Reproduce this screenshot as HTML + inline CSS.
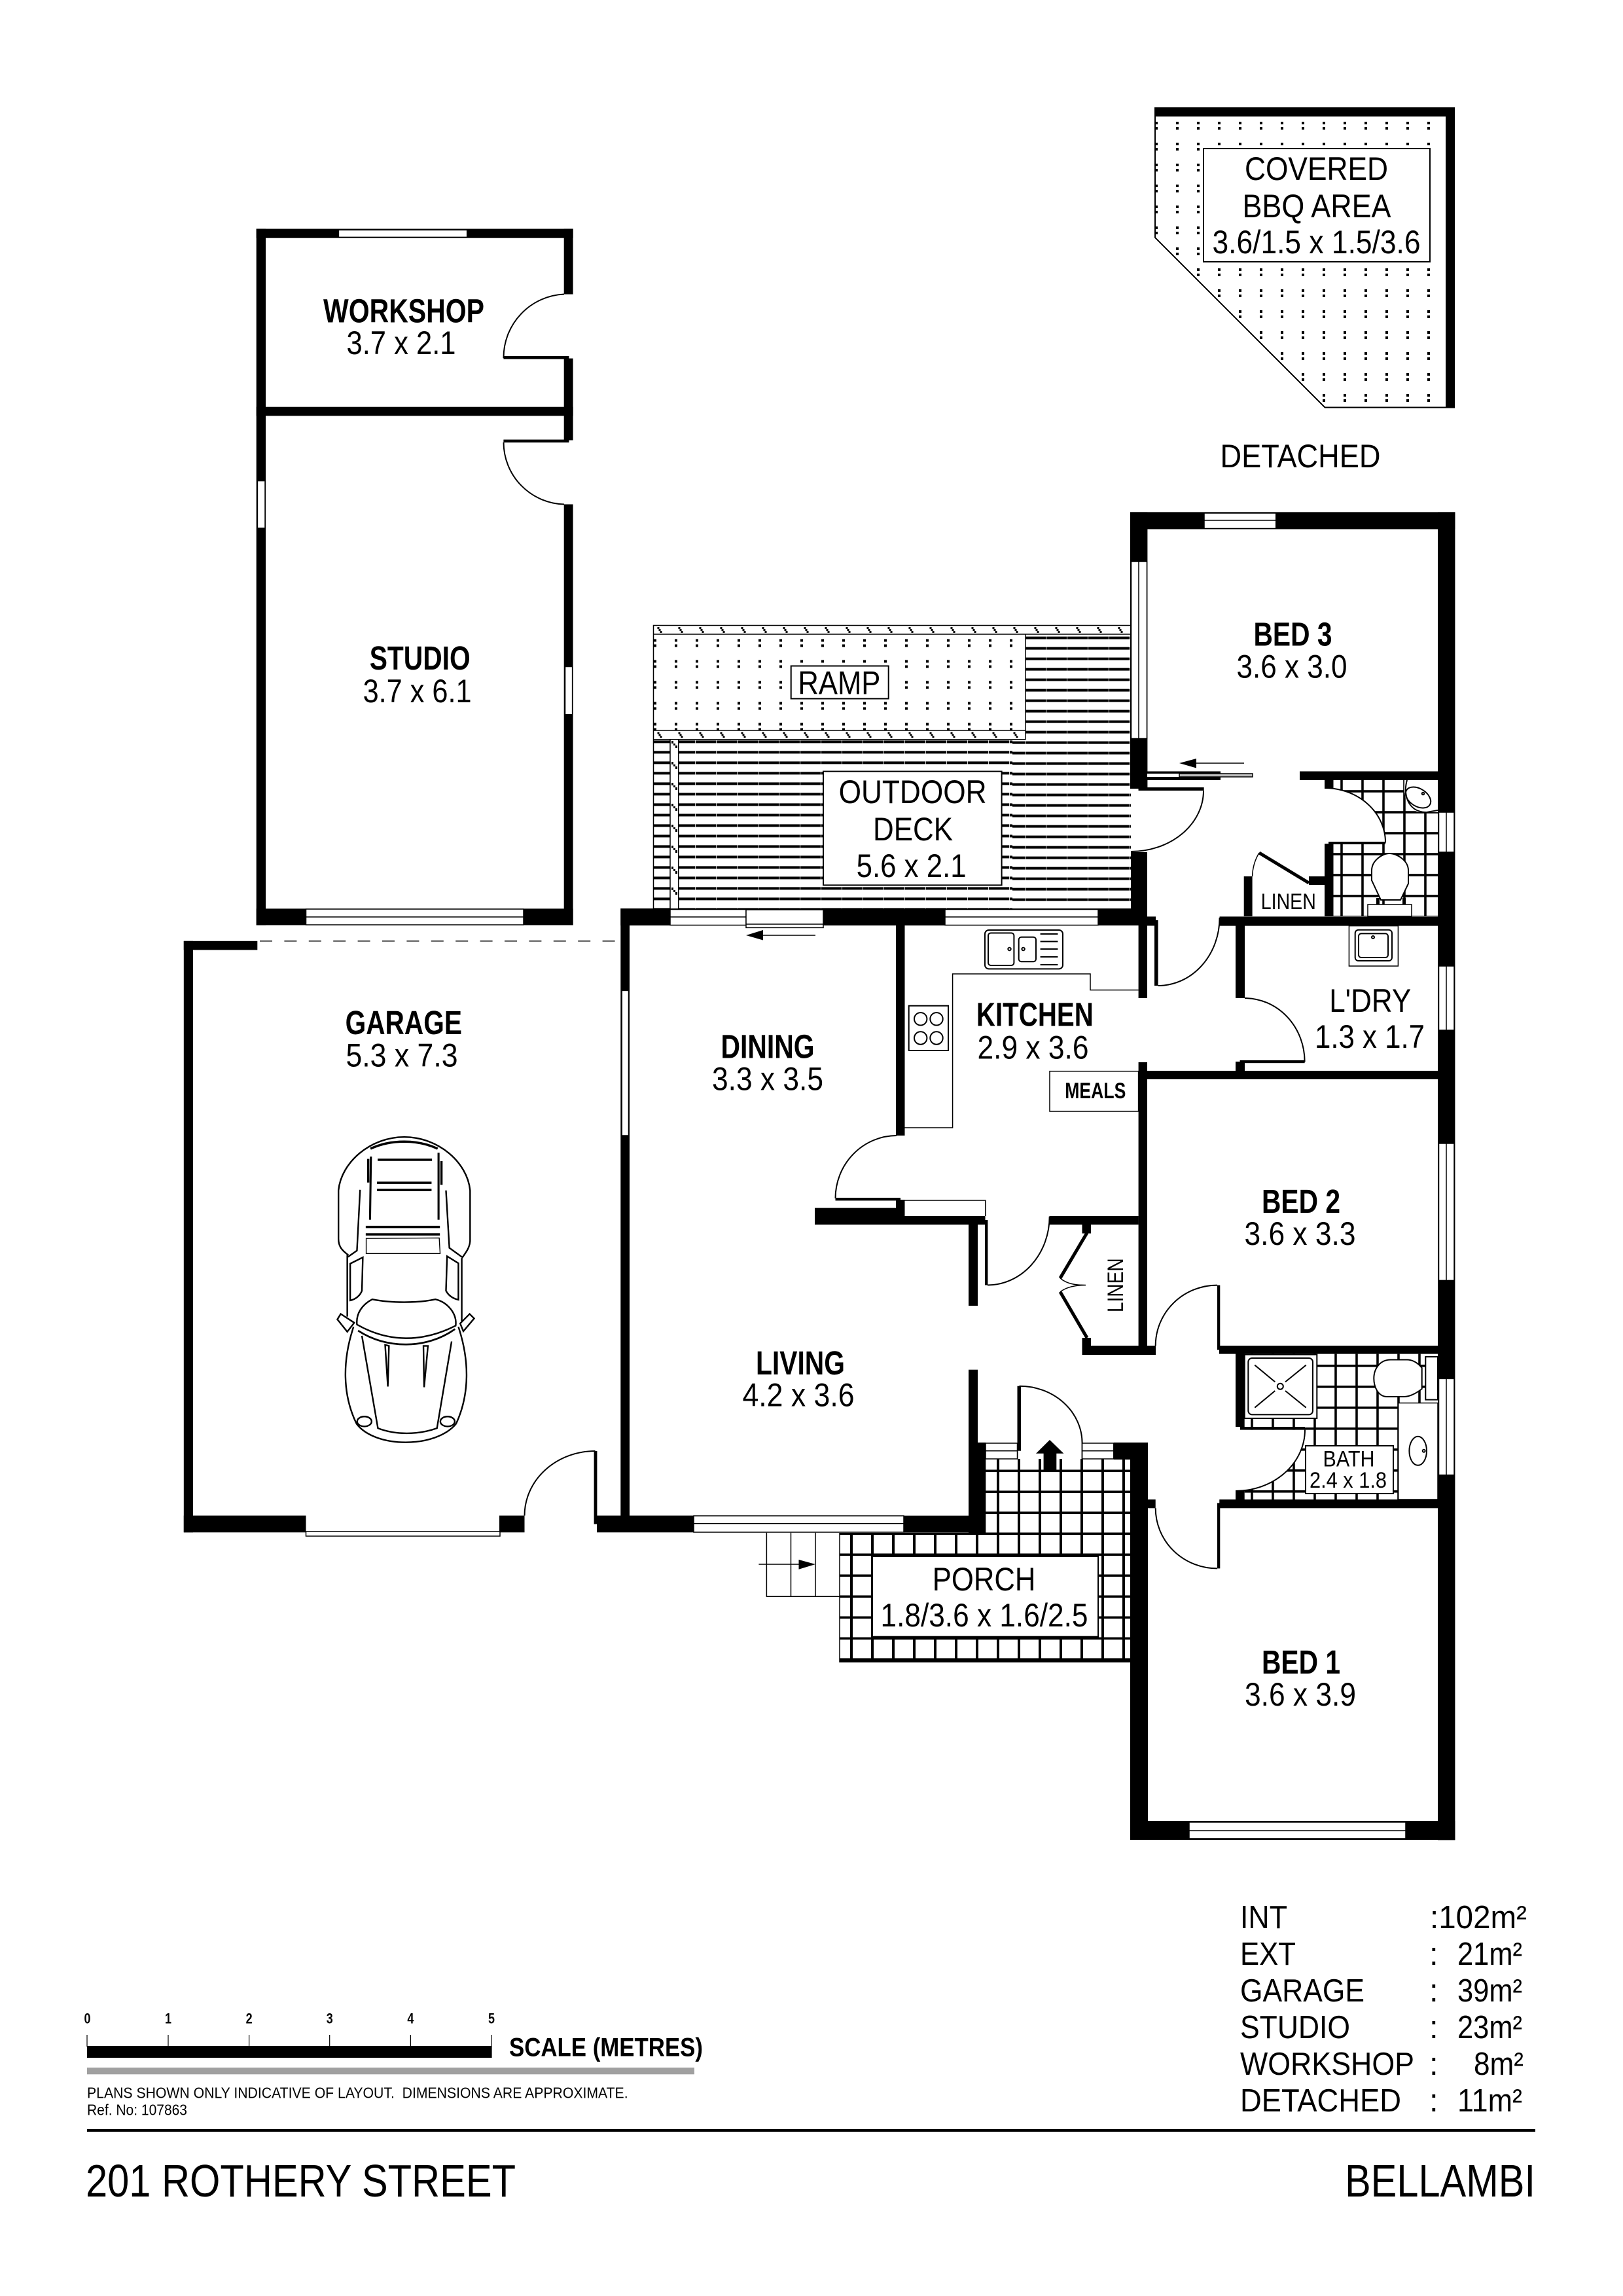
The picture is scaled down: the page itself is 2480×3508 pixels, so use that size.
<!DOCTYPE html>
<html><head><meta charset="utf-8"><title>201 Rothery Street floor plan</title>
<style>
html,body{margin:0;padding:0;background:#fff}
svg{display:block}
text{font-family:"Liberation Sans",Arial,sans-serif;fill:#000}
.r{font-size:50px;text-anchor:middle}
.b{font-size:51px;font-weight:bold;text-anchor:middle}
.l{font-size:49px}
.wn{fill:#fff;stroke:#000;stroke-width:1.5}
.ln{stroke:#000;stroke-width:1.5;fill:none}
.arc{stroke:#000;stroke-width:2;fill:#fff}
.fx{fill:#fff;stroke:#000;stroke-width:2}
.no{fill:none;stroke:#000;stroke-width:2}
.box{fill:#fff;stroke:#000;stroke-width:2}
</style></head><body>
<svg xmlns="http://www.w3.org/2000/svg" width="2480" height="3508" viewBox="0 0 2480 3508">
<defs>
<pattern id="d1" patternUnits="userSpaceOnUse" x="1765" y="186" width="32" height="32"><rect width="4" height="4"/><rect y="8" width="4" height="4"/></pattern>
<pattern id="d2" patternUnits="userSpaceOnUse" x="999" y="976.5" width="32" height="32"><rect width="4" height="4"/><rect y="8" width="4" height="4"/></pattern>
<pattern id="pa" patternUnits="userSpaceOnUse" x="1567" y="972.6" width="32" height="16"><rect width="31.2" height="4"/></pattern>
<pattern id="pb" patternUnits="userSpaceOnUse" x="999" y="1131.4" width="32" height="16"><rect width="31.2" height="4"/></pattern>
<pattern id="t1" patternUnits="userSpaceOnUse" x="998.5" y="956" width="32" height="13"><rect x="6" y="2" width="3" height="3"/><rect x="8" y="5" width="3" height="3"/><rect x="10" y="8" width="3" height="3"/></pattern>
<pattern id="t2" patternUnits="userSpaceOnUse" x="998.5" y="1116.5" width="32" height="13"><rect x="6" y="2" width="3" height="3"/><rect x="8" y="5" width="3" height="3"/><rect x="10" y="8" width="3" height="3"/></pattern>
<pattern id="t3" patternUnits="userSpaceOnUse" x="1024" y="1130" width="13" height="32"><rect x="2" y="2" width="3" height="4"/><rect x="5" y="6" width="3" height="3"/><rect x="8" y="9" width="3" height="4"/></pattern>
<pattern id="tp" patternUnits="userSpaceOnUse" x="1299" y="2341.5" width="32" height="32"><rect width="4" height="32"/><rect width="32" height="3.6"/></pattern>
<pattern id="te" patternUnits="userSpaceOnUse" x="2048.2" y="1207.2" width="32" height="32"><rect width="3.6" height="32"/><rect width="32" height="3.6"/></pattern>
<pattern id="tb" patternUnits="userSpaceOnUse" x="1911.2" y="2085" width="32" height="32"><rect width="3.6" height="32"/><rect width="32" height="3.6"/></pattern>
</defs>
<rect width="2480" height="3508" fill="#fff"/>

<!-- BBQ -->
<polygon points="1765,178 2209,178 2209,622.5 2024.5,622.5 1765,363" fill="url(#d1)"/>
<polygon points="1765,165 2222,165 2222,622.5 2024.5,622.5 1765,363" fill="none" stroke="#000" stroke-width="2"/>
<rect x="1764" y="164" width="459" height="14"/>
<rect x="2209" y="164" width="14" height="459"/>
<rect class="box" x="1839" y="227" width="346" height="173"/>
<text class="r" x="2011.5" y="275" textLength="219" lengthAdjust="spacingAndGlyphs">COVERED</text>
<text class="r" x="2012" y="332" textLength="227" lengthAdjust="spacingAndGlyphs">BBQ AREA</text>
<text class="r" x="2011.5" y="387" textLength="318" lengthAdjust="spacingAndGlyphs">3.6/1.5 x 1.5/3.6</text>
<text class="r" x="1987" y="714" textLength="245" lengthAdjust="spacingAndGlyphs">DETACHED</text>

<!-- Deck and ramp -->
<rect x="1567" y="969" width="161" height="162" fill="url(#pa)"/>
<rect x="1547" y="1130" width="181" height="258" fill="url(#pa)"/>
<rect x="999" y="1130" width="548" height="258" fill="url(#pb)"/>
<rect x="999" y="969" width="568" height="147" fill="url(#d2)"/>
<rect x="999" y="956" width="729" height="13" fill="url(#t1)"/>
<rect x="999" y="1116.5" width="568" height="13" fill="url(#t2)"/>
<rect x="1024" y="1130" width="12.7" height="258" fill="#fff"/>
<rect x="1024" y="1130" width="12.7" height="258" fill="url(#t3)"/>
<g class="ln" stroke="#000" stroke-width="2" fill="none">
<path d="M998.5 1388V955.5H1728M998.5 969H1728M998.5 1116H1567M998.5 1129.8H1567V969M1024 1130V1388M1036.7 1130V1388"/>
</g>
<rect class="box" x="1208.7" y="1017.5" width="149" height="50"/>
<text class="r" x="1282.4" y="1060.7" textLength="126" lengthAdjust="spacingAndGlyphs">RAMP</text>
<rect class="box" x="1258" y="1178.6" width="272.6" height="173.8"/>
<text class="r" x="1394.6" y="1227.2" textLength="226" lengthAdjust="spacingAndGlyphs">OUTDOOR</text>
<text class="r" x="1395" y="1283.8" textLength="122" lengthAdjust="spacingAndGlyphs">DECK</text>
<text class="r" x="1392.6" y="1340" textLength="168" lengthAdjust="spacingAndGlyphs">5.6 x 2.1</text>

<!-- Tile areas -->
<rect x="1506" y="2229" width="221" height="114" fill="url(#tp)"/>
<rect x="1283" y="2342" width="444" height="198" fill="url(#tp)"/>
<rect x="1283" y="2536" width="444" height="4"/>
<path class="ln" d="M1283 2342V2540"/>
<rect x="2037.5" y="1192" width="160" height="208" fill="url(#te)"/>
<rect x="1901.7" y="2068.6" width="296" height="222.5" fill="url(#tb)"/>

<!-- Walls: workshop and studio -->
<g fill="#000">
<rect x="391.7" y="349.6" width="484" height="14.1"/>
<rect x="391.7" y="349.6" width="14.3" height="1064"/>
<rect x="861.7" y="349.6" width="13.9" height="100"/>
<rect x="861.7" y="547.6" width="13.9" height="125"/>
<rect x="861.7" y="770.5" width="13.9" height="643"/>
<rect x="391.7" y="621.7" width="484" height="13.7"/>
<rect x="391.7" y="1388.3" width="484" height="25.2"/>
<rect x="769.4" y="544" width="100" height="4.7"/>
<rect x="769.4" y="671.6" width="100" height="4.5"/>
<!-- garage -->
<rect x="280.8" y="1437.8" width="112.5" height="13.6"/>
<rect x="280.8" y="1437.8" width="14.2" height="903.5"/>
<rect x="280.8" y="2315.6" width="186.7" height="25.7"/>
<rect x="763" y="2315.6" width="38.5" height="25.7"/>
<rect x="907.6" y="2217" width="4.8" height="111.7"/>
<rect x="912" y="2315.6" width="148" height="25.7"/>
<!-- house -->
<rect x="948.3" y="1388" width="13.7" height="953"/>
<rect x="948.3" y="1388" width="804.7" height="26"/>
<rect x="1381" y="2315.7" width="125" height="26"/>
<rect x="1480" y="2092.7" width="14" height="112.3"/>
<rect x="1480" y="2204" width="26.3" height="139"/>
<rect x="1369" y="1414" width="13.5" height="321"/>
<rect x="1369" y="1833" width="13.5" height="25"/>
<rect x="1245" y="1845.6" width="137.5" height="25.4"/>
<rect x="1382.5" y="1858" width="123" height="13"/>
<rect x="1480" y="1871" width="14" height="124"/>
<rect x="1505" y="1864" width="4.4" height="99.5"/>
<rect x="1603.7" y="1858" width="136" height="13"/>
<rect x="1276.5" y="1830" width="99.5" height="4.4"/>
<rect x="1739.6" y="1414" width="13.4" height="111"/>
<rect x="1739.6" y="1623" width="13.4" height="446.7"/>
<rect x="1727" y="782.4" width="26.4" height="422.6"/>
<rect x="1728" y="1302" width="25" height="112"/>
<rect x="1727" y="782.4" width="496.4" height="26.1"/>
<rect x="2197" y="782.4" width="26.4" height="2029"/>
<rect x="1753" y="1178.5" width="112" height="13.5"/>
<rect x="1986" y="1178.5" width="211" height="13.5"/>
<rect x="2024" y="1192" width="13.5" height="12"/>
<rect x="1739.6" y="1203" width="100" height="4.8"/>
<rect x="1753" y="1400.4" width="13" height="14"/>
<rect x="1764" y="1406" width="5.6" height="100"/>
<rect x="1863.6" y="1400.4" width="333.4" height="14.2"/>
<rect x="1888" y="1414" width="14" height="111"/>
<rect x="1888" y="1622" width="14" height="14"/>
<rect x="1894.6" y="1620" width="99" height="4.2"/>
<rect x="1739" y="1636" width="458" height="13"/>
<rect x="1863" y="2056" width="334" height="12.6"/>
<rect x="1860" y="1963.6" width="4.3" height="98.9"/>
<rect x="1740" y="2056" width="25.7" height="12.6"/>
<rect x="1888" y="2068" width="13.7" height="112"/>
<rect x="1888" y="2278" width="13.7" height="13"/>
<rect x="1863.3" y="2291" width="333.7" height="13.3"/>
<rect x="1860" y="2296.4" width="4.3" height="100"/>
<rect x="1740" y="2291" width="25.7" height="13.3"/>
<rect x="1701.8" y="2204" width="52.2" height="26"/>
<rect x="1727" y="2230" width="27" height="581"/>
<rect x="1727" y="2782" width="496.4" height="29"/>
<rect x="1653.5" y="1871" width="13.5" height="13.5"/>
<rect x="1653.5" y="2044" width="13.5" height="12"/>
<rect x="1653.5" y="2056" width="112.5" height="14"/>
<rect x="1900.7" y="1339" width="12.9" height="61"/>
<rect x="2000" y="1339" width="24" height="13"/>
</g>

<!-- Doors -->
<path class="no" d="M862 449.5A97 97 0 0 0 769.5 547"/>
<path class="no" d="M769.5 676A95 95 0 0 0 862 770.5"/>
<path class="no" d="M801.5 2315.6A108 98.6 0 0 1 909.5 2217"/>
<path d="M1839 1208A111 93 0 0 1 1728 1301V1208Z" fill="#fff"/>
<path class="no" d="M1839 1208A111 93 0 0 1 1728 1301"/>
<rect x="1739.6" y="1203" width="100" height="4.8"/>
<path d="M2024 1204A93 83 0 0 1 2117 1287.5H2024Z" fill="#fff"/>
<path class="no" d="M2024 1204A93 83 0 0 1 2117 1287.5"/>
<rect x="2024" y="1289" width="13.5" height="111"/>
<rect x="2030" y="1286" width="87" height="4"/>
<path d="M1994 2184.6A106 93.5 0 0 1 1888 2278V2184.6Z" fill="#fff"/>
<path class="no" d="M1994 2184.6A106 93.5 0 0 1 1888 2278"/>
<rect x="1895" y="2180" width="99" height="4.6"/>
<path class="no" d="M1902 1525A92 97 0 0 1 1993.6 1622.4"/>
<path class="no" d="M1765.7 2056A94.3 92.4 0 0 1 1860 1963.6"/>
<path class="no" d="M1765.7 2304.3A94.3 92 0 0 0 1860 2396.4"/>
<path class="no" d="M1769.6 1506A94 104 0 0 0 1863.6 1402"/>
<path class="no" d="M1370 1735A94 96 0 0 0 1276.5 1831"/>
<path class="no" d="M1509 1963.5A95 105 0 0 0 1603.7 1858.6"/>
<path class="no" d="M1557.6 2117.7A96 87.3 0 0 1 1653.6 2205V2229M1554.5 2205V2229"/>
<rect x="1554.5" y="2117.7" width="5.5" height="99"/>

<!-- Windows -->
<rect class="wn" x="517.4" y="351.4" width="196.3" height="11"/>
<rect class="wn" x="393.4" y="734.6" width="11.6" height="72.4"/>
<rect class="wn" x="863.5" y="1018.5" width="11.1" height="73.2"/>
<rect class="wn" x="467.5" y="1389" width="332.5" height="24"/><path class="ln" d="M467.5 1401H800"/>
<rect class="wn" x="467.5" y="2340" width="296.5" height="7"/>
<rect class="wn" x="950.2" y="1513.4" width="10.3" height="221.6"/>
<rect class="wn" x="1024" y="1389.5" width="116" height="24"/><path class="ln" d="M1024 1401H1140"/>
<rect class="wn" x="1140" y="1390" width="118" height="27.4"/><path class="ln" d="M1140 1412H1258"/>
<rect class="wn" x="1444" y="1389.5" width="234" height="24"/><path class="ln" d="M1444 1401H1678"/>
<rect class="wn" x="1060" y="2316" width="321" height="25"/><path class="ln" d="M1060 2327.7H1381"/>
<rect class="wn" x="1506" y="2205" width="48.5" height="24"/><path class="ln" d="M1506 2216.7H1554.5"/>
<rect class="wn" x="1653.6" y="2205" width="48.2" height="24"/><path class="ln" d="M1653.6 2216.7H1701.8"/>
<rect class="wn" x="1840" y="784" width="109.7" height="23.5"/><path class="ln" d="M1840 795H1949.7"/>
<rect class="wn" x="1728.5" y="858" width="24" height="270.5"/><path class="ln" d="M1740 858V1128.5"/>
<rect class="wn" x="2198.5" y="1241" width="23.5" height="61"/><path class="ln" d="M2210 1241V1302"/>
<rect class="wn" x="2198.5" y="1476" width="23.5" height="98"/><path class="ln" d="M2210 1476V1574"/>
<rect class="wn" x="2198.5" y="1747" width="23.5" height="209.4"/><path class="ln" d="M2210 1747V1956.4"/>
<rect class="wn" x="2198.5" y="2106.4" width="23.5" height="147.2"/><path class="ln" d="M2210 2106.4V2253.6"/>
<rect class="wn" x="1817" y="2784" width="331" height="25"/><path class="ln" d="M1817 2797H2148"/>
<rect x="1753" y="1182" width="49" height="5" fill="#fff"/>
<rect x="1802" y="1182" width="112" height="5" fill="#bbb" stroke="#000" stroke-width="1.5"/>
<path d="M397 1437.8H941" stroke="#222" stroke-width="1.6" stroke-dasharray="19 18.4" fill="none"/>

<!-- Arrows -->
<path class="ln" d="M1160 1429H1246"/><polygon points="1140,1429 1166,1421 1166,1436.5"/>
<path class="ln" d="M1820 1166H1901"/><polygon points="1802,1166 1828,1159 1828,1173.5"/>
<path class="ln" d="M1159.4 2390H1225"/><polygon points="1246,2390 1220.5,2383 1220.5,2397.7"/>
<polygon points="1604,2200 1625.4,2220.7 1614.3,2220.7 1614.3,2249 1594.6,2249 1594.6,2220.7 1583,2220.7"/>

<!-- Steps -->
<path class="no" d="M1283 2439.3H1171.4V2341.7M1208.5 2341.7V2439.3M1246 2341.7V2439.3" style="stroke-width:1.5"/>

<!-- Kitchen fixtures -->
<path class="no" d="M1382.5 1723H1455.6V1488H1666V1512.6H1739.6" style="stroke-width:1.5"/>
<rect class="no" x="1505" y="1421" width="119" height="59.4" rx="6"/>
<rect class="no" x="1510" y="1425.5" width="39.4" height="49.5" rx="4"/>
<rect class="no" x="1556.7" y="1431.8" width="26.3" height="37.5" rx="4"/>
<circle class="no" cx="1542.5" cy="1450" r="2.2"/><circle class="no" cx="1563.6" cy="1450" r="2.2"/>
<path class="no" d="M1589.6 1427H1616.4M1589.6 1438.5H1616.4M1589.6 1450H1616.4M1589.6 1462H1616.4M1589.6 1474H1616.4"/>
<rect class="no" x="1388.7" y="1536.7" width="60.3" height="68.3"/>
<circle class="no" cx="1406.7" cy="1556.8" r="9.7"/><circle class="no" cx="1431" cy="1556.8" r="9.7"/>
<circle class="no" cx="1406.7" cy="1586" r="9.7"/><circle class="no" cx="1431" cy="1586" r="9.7"/>
<rect class="no" x="1604" y="1636.7" width="135.6" height="61.3" style="stroke-width:1.5"/>
<path class="no" d="M1382.5 1834H1505.8V1858" style="stroke-width:1.5"/>

<!-- Linen doors -->
<path d="M1661 1883.6L1620 1952.8M1620 1973.8L1661 2044" stroke="#000" stroke-width="5" fill="none"/>
<path class="no" d="M1620 1952.8C1630 1962 1645 1963.5 1659 1963.5C1645 1963.5 1630 1966 1620 1973.8" style="stroke-width:1.5"/>
<path d="M1924 1303L2000 1349" stroke="#000" stroke-width="5" fill="none"/>
<path class="no" d="M1913.6 1339C1914 1325 1918 1313 1924 1303" style="stroke-width:1.5"/>

<!-- Ensuite fixtures -->
<path d="M2146 1192H2197V1241H2172C2156 1241 2146 1225 2146 1205Z" fill="#fff"/>
<path class="no" d="M2150 1192C2144 1212 2150 1241 2180 1241L2197 1238"/>
<ellipse class="no" cx="2167" cy="1218.5" rx="21" ry="13.5" transform="rotate(32 2167 1218.5)"/>
<circle class="no" cx="2174.5" cy="1212.5" r="1.8"/>
<path class="fx" d="M2096 1345V1330C2096 1315 2112 1304 2123 1304C2135 1304 2152 1315 2152 1330V1350L2140 1375H2110Z"/>
<path d="M2103 1372V1382H2108V1372ZM2143 1372V1382H2148V1372Z"/>
<rect class="fx" x="2090" y="1382" width="67" height="18" style="stroke-width:1.5"/>
<rect class="no" x="2061.4" y="1414.6" width="75" height="61.4" style="stroke-width:1.5"/>
<rect class="no" x="2070.7" y="1420.7" width="56.3" height="47.3" rx="5"/>
<rect class="no" x="2076" y="1426.4" width="45" height="36.6" rx="4"/>
<circle class="no" cx="2098" cy="1432" r="2"/>

<!-- Bath fixtures -->
<rect class="fx" x="1901.7" y="2069.6" width="110.6" height="97.4"/>
<rect class="no" x="1907.3" y="2075" width="98.7" height="86.4" rx="6"/>
<circle class="no" cx="1956.3" cy="2118.2" r="4.5"/>
<path class="no" d="M1917.3 2085.7L1948.3 2111.4M1995.7 2085.7L1964 2111.4M1917.3 2150.7L1948.3 2125M1995.7 2150.7L1964 2125"/>
<path class="fx" d="M2172.7 2090V2122C2165 2128 2155 2134 2145 2134H2120C2105 2134 2099.3 2118 2099.3 2106C2099.3 2092 2108 2077.5 2125 2077.5H2150C2160 2077.5 2168 2084 2172.7 2090Z"/>
<rect class="fx" x="2178.3" y="2073" width="18.7" height="65.6"/>
<rect class="fx" x="2136.7" y="2143.6" width="60.3" height="147.4" style="stroke-width:1.5"/>
<ellipse class="no" cx="2166.7" cy="2216.8" rx="13.3" ry="22"/>
<circle class="no" cx="2175.7" cy="2216.8" r="2"/>

<!-- Car -->
<g transform="translate(480 1700) scale(.3444)" fill="none" stroke="#000" stroke-width="7">
<path d="M152 632C125 612 108 595 108 560V345C120 220 250 108 400 108C550 108 680 220 692 345V570C690 600 672 622 658 642L600 600L585 345"/>
<path d="M150 640L190 612L204 342M147 632V905M655 645V925"/>
<path d="M250 160C340 118 460 118 548 160" stroke-width="10"/>
<path d="M248 475L252 195M552 475V178" stroke-width="9"/>
<path d="M240 205V310M565 215V320" stroke-width="10"/>
<path d="M282 209H523M279 311H521M279 343H521M229 507H558M229 540H558" stroke-width="10"/>
<path d="M231 558L555 556L559 625H231Z" stroke-width="4"/>
<path d="M160 670L216 642L212 790C205 810 185 828 160 833Z"/>
<path d="M590 637L640 668V830C615 825 595 810 585 790Z"/>
<path d="M190 940C185 890 215 850 258 828C340 845 460 845 538 828C590 840 635 890 628 945C480 1020 330 1020 190 940Z"/>
<path d="M195 967C320 1050 500 1050 625 960" stroke-width="8"/>
<path d="M175 950C125 1100 125 1250 188 1380M640 950C690 1100 690 1250 630 1380M188 1380C270 1490 540 1490 630 1380"/>
<path d="M212 990L283 1400C360 1430 460 1430 545 1400L610 1015"/>
<path d="M315 1030L327 1215L332 1035ZM485 1035L488 1218L505 1035Z"/>
<ellipse cx="223" cy="1370" rx="32" ry="22"/><ellipse cx="592" cy="1370" rx="32" ry="22"/>
<path d="M118 893L103 917L147 972L178 932ZM690 893L710 913L662 970L648 935Z"/>
</g>

<!-- Porch label, bath label -->
<rect class="box" x="1333" y="2378" width="345" height="122.7"/>
<text class="r" x="1503.6" y="2430" textLength="157.6" lengthAdjust="spacingAndGlyphs">PORCH</text>
<text class="r" x="1504" y="2485" textLength="317" lengthAdjust="spacingAndGlyphs">1.8/3.6 x 1.6/2.5</text>
<rect class="box" x="1995" y="2209" width="134" height="73"/>
<text class="r" x="2061" y="2240.4" style="font-size:34px" textLength="79" lengthAdjust="spacingAndGlyphs">BATH</text>
<text class="r" x="2060" y="2273" style="font-size:34px" textLength="118" lengthAdjust="spacingAndGlyphs">2.4 x 1.8</text>

<!-- Room labels -->
<text class="b" x="617" y="492.5" textLength="246" lengthAdjust="spacingAndGlyphs">WORKSHOP</text>
<text class="r" x="613" y="541" textLength="167" lengthAdjust="spacingAndGlyphs">3.7 x 2.1</text>
<text class="b" x="641.7" y="1023" textLength="154" lengthAdjust="spacingAndGlyphs">STUDIO</text>
<text class="r" x="637.6" y="1073" textLength="166" lengthAdjust="spacingAndGlyphs">3.7 x 6.1</text>
<text class="b" x="616.8" y="1579.8" textLength="178.4" lengthAdjust="spacingAndGlyphs">GARAGE</text>
<text class="r" x="614" y="1629.7" textLength="171" lengthAdjust="spacingAndGlyphs">5.3 x 7.3</text>
<text class="b" x="1173" y="1616.5" textLength="143" lengthAdjust="spacingAndGlyphs">DINING</text>
<text class="r" x="1173" y="1665.7" textLength="170" lengthAdjust="spacingAndGlyphs">3.3 x 3.5</text>
<text class="b" x="1581.4" y="1567.5" textLength="179" lengthAdjust="spacingAndGlyphs">KITCHEN</text>
<text class="r" x="1578.5" y="1617.5" textLength="170" lengthAdjust="spacingAndGlyphs">2.9 x 3.6</text>
<text x="1673.8" y="1678" style="font-size:34px;font-weight:bold;text-anchor:middle" textLength="93" lengthAdjust="spacingAndGlyphs">MEALS</text>
<text class="b" x="1223" y="2100" textLength="136" lengthAdjust="spacingAndGlyphs">LIVING</text>
<text class="r" x="1220" y="2148.3" textLength="171" lengthAdjust="spacingAndGlyphs">4.2 x 3.6</text>
<text class="b" x="1975.5" y="986.6" textLength="120" lengthAdjust="spacingAndGlyphs">BED 3</text>
<text class="r" x="1974" y="1035.5" textLength="169" lengthAdjust="spacingAndGlyphs">3.6 x 3.0</text>
<text class="b" x="1988" y="1853" textLength="120" lengthAdjust="spacingAndGlyphs">BED 2</text>
<text class="r" x="1986.5" y="1901.8" textLength="170" lengthAdjust="spacingAndGlyphs">3.6 x 3.3</text>
<text class="b" x="1988" y="2557" textLength="120" lengthAdjust="spacingAndGlyphs">BED 1</text>
<text class="r" x="1987" y="2606" textLength="170" lengthAdjust="spacingAndGlyphs">3.6 x 3.9</text>
<text class="r" x="2093.7" y="1545.8" textLength="125" lengthAdjust="spacingAndGlyphs">L'DRY</text>
<text class="r" x="2093" y="1601" textLength="168" lengthAdjust="spacingAndGlyphs">1.3 x 1.7</text>
<text x="1968.8" y="1389" style="font-size:34px;text-anchor:middle" textLength="84" lengthAdjust="spacingAndGlyphs">LINEN</text>
<text transform="translate(1716 1963.7) rotate(-90)" style="font-size:34px;text-anchor:middle" textLength="82.6" lengthAdjust="spacingAndGlyphs">LINEN</text>

<!-- Areas table -->
<text class="l" x="1895" y="2946" textLength="72" lengthAdjust="spacingAndGlyphs">INT</text>
<text class="l" x="1895" y="3002" textLength="85" lengthAdjust="spacingAndGlyphs">EXT</text>
<text class="l" x="1895" y="3058" textLength="190" lengthAdjust="spacingAndGlyphs">GARAGE</text>
<text class="l" x="1895" y="3114" textLength="168" lengthAdjust="spacingAndGlyphs">STUDIO</text>
<text class="l" x="1895" y="3170" textLength="266" lengthAdjust="spacingAndGlyphs">WORKSHOP</text>
<text class="l" x="1895" y="3226" textLength="246" lengthAdjust="spacingAndGlyphs">DETACHED</text>
<text class="l" x="2185" y="2946" textLength="148" lengthAdjust="spacingAndGlyphs">:102m²</text>
<text class="l" x="2184" y="3002">:</text><text class="l" x="2227" y="3002" textLength="99" lengthAdjust="spacingAndGlyphs">21m²</text>
<text class="l" x="2184" y="3058">:</text><text class="l" x="2227" y="3058" textLength="99" lengthAdjust="spacingAndGlyphs">39m²</text>
<text class="l" x="2184" y="3114">:</text><text class="l" x="2227" y="3114" textLength="99" lengthAdjust="spacingAndGlyphs">23m²</text>
<text class="l" x="2184" y="3170">:</text><text class="l" x="2252" y="3170" textLength="76" lengthAdjust="spacingAndGlyphs">8m²</text>
<text class="l" x="2184" y="3226">:</text><text class="l" x="2227" y="3226" textLength="99" lengthAdjust="spacingAndGlyphs">11m²</text>

<!-- Scale -->
<g style="font-size:22px;font-weight:bold;text-anchor:middle">
<text x="133.5" y="3091.5" textLength="10" lengthAdjust="spacingAndGlyphs">0</text><text x="257" y="3091.5" textLength="10" lengthAdjust="spacingAndGlyphs">1</text><text x="380.6" y="3091.5" textLength="10" lengthAdjust="spacingAndGlyphs">2</text><text x="503.7" y="3091.5" textLength="10" lengthAdjust="spacingAndGlyphs">3</text><text x="627.4" y="3091.5" textLength="10" lengthAdjust="spacingAndGlyphs">4</text><text x="751" y="3091.5" textLength="10" lengthAdjust="spacingAndGlyphs">5</text>
</g>
<path d="M133 3109V3127M257 3109V3127M380.6 3109V3127M503.7 3109V3127M627.4 3109V3127M751 3109V3127" stroke="#000" stroke-width="1.2"/>
<rect x="133" y="3126" width="618.6" height="18"/>
<text x="778" y="3141.7" style="font-size:40px;font-weight:bold" textLength="296" lengthAdjust="spacingAndGlyphs">SCALE (METRES)</text>
<rect x="133" y="3159" width="928" height="10.3" fill="#a0a0a0"/>
<text x="133" y="3205.7" style="font-size:23px" textLength="826.6" lengthAdjust="spacingAndGlyphs">PLANS SHOWN ONLY INDICATIVE OF LAYOUT.&#160; DIMENSIONS ARE APPROXIMATE.</text>
<text x="133" y="3231.7" style="font-size:23px" textLength="153" lengthAdjust="spacingAndGlyphs">Ref. No: 107863</text>
<rect x="133" y="3253" width="2213" height="4"/>
<text x="131" y="3356" style="font-size:70px" textLength="657" lengthAdjust="spacingAndGlyphs">201 ROTHERY STREET</text>
<text x="2055" y="3356" style="font-size:70px" textLength="291" lengthAdjust="spacingAndGlyphs">BELLAMBI</text>
</svg>
</body></html>
